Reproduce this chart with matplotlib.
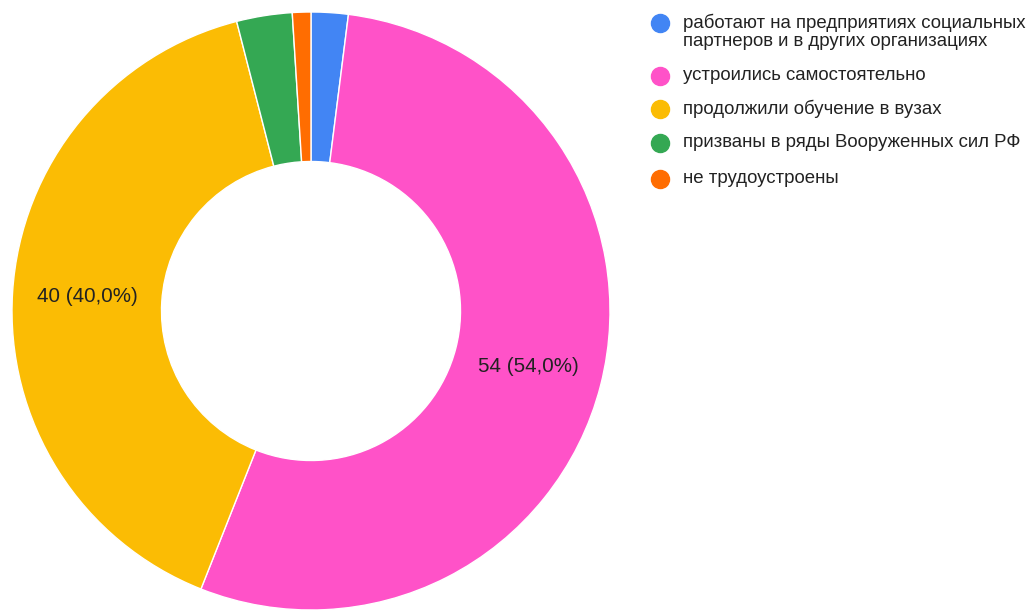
import matplotlib.pyplot as plt
from matplotlib.lines import Line2D

plt.rcParams['font.family'] = ['Liberation Sans', 'DejaVu Sans']

# Данные
categories = [
    'работают на предприятиях социальных\nпартнеров и в других организациях',
    'устроились самостоятельно',
    'продолжили обучение в вузах',
    'призваны в ряды Вооруженных сил РФ',
    'не трудоустроены',
]
values = [2, 54, 40, 3, 1]
colors = ['#4285F4', '#FF52C8', '#FBBC04', '#34A853', '#FF6D01']
shown = [False, True, True, False, False]

fig = plt.figure(figsize=(10.29, 6.10), dpi=100)
W, H = 1029, 610
cx, cy, r = 311, 311, 299
ax = fig.add_axes([(cx - r) / W, (H - cy - r) / H, 2 * r / W, 2 * r / H])

total = sum(values)

def fmt(pct):
    n = round(pct * total / 100)
    return '%d (%s%%)' % (n, ('%.1f' % pct).replace('.', ','))

wedges, texts, autotexts = ax.pie(
    values, colors=colors, startangle=90, counterclock=False,
    wedgeprops=dict(width=0.5, edgecolor='white', linewidth=1),
    autopct=fmt, pctdistance=0.75,
    textprops=dict(fontsize=14.8, color='#222222'))
for t, s in zip(autotexts, shown):
    t.set_visible(s)
ax.set_xlim(-1, 1)
ax.set_ylim(-1, 1)
ax.set_aspect('equal')

# Легенда
rows_y = [23, 76, 109, 143, 179]
for lab, col, py in zip(categories, colors, rows_y):
    fig.add_artist(Line2D([660 / W], [1 - py / H], marker='o', markersize=13,
                          color=col, linestyle='none', transform=fig.transFigure))
    fig.text(683 / W, 1 - (py - 9) / H, lab, fontsize=13.4, color='#222222',
             va='top', ha='left', linespacing=1.06)

fig.savefig('out.png', dpi=100)
